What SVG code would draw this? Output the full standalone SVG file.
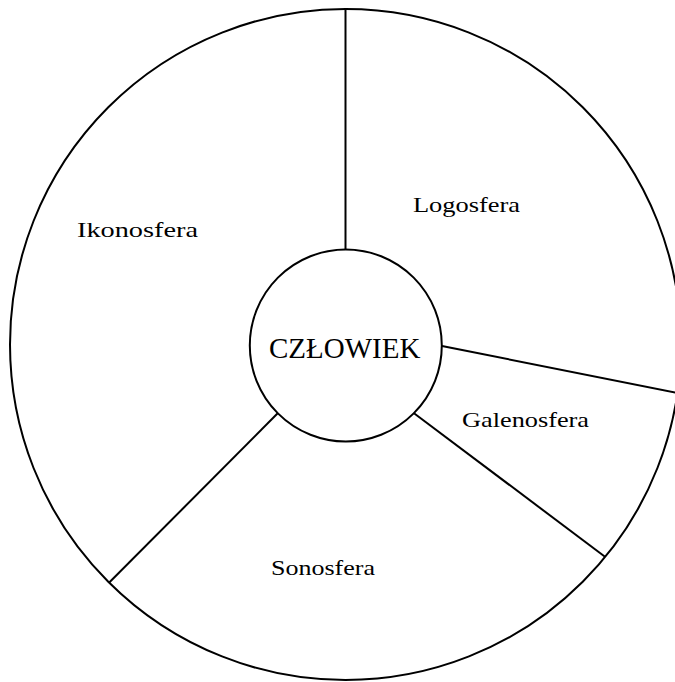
<svg xmlns="http://www.w3.org/2000/svg" width="675" height="682" viewBox="0 0 675 682">
<style>
.ln{stroke:#000;stroke-width:2;fill:none}
.lbl{font-family:"Liberation Serif","Times New Roman",serif;font-size:22px;fill:#000}
.ctr{font-family:"Liberation Serif","Times New Roman",serif;font-size:29px;fill:#000}
</style>
<rect width="675" height="682" fill="#fff"/>
<g id="outer"><circle class="ln" cx="345.5" cy="344.5" r="335.5"/></g>
<g id="connectors">
<line class="ln" x1="345.5" y1="9" x2="345.5" y2="249"/>
<line class="ln" x1="442" y1="346" x2="700" y2="397.6"/>
<line class="ln" x1="277.7" y1="413.3" x2="109" y2="582.8"/>
<line class="ln" x1="414" y1="413.3" x2="605" y2="556.7"/>
</g>
<g id="czlowiek"><circle class="ln" cx="345.8" cy="345.5" r="96" fill="#fff"/><text class="ctr" x="269" y="358">CZŁOWIEK</text></g>
<g id="logosfera"><text class="lbl" x="413" y="211.7" textLength="107" lengthAdjust="spacingAndGlyphs">Logosfera</text></g>
<g id="ikonosfera"><text class="lbl" x="77" y="236.7" textLength="121" lengthAdjust="spacingAndGlyphs">Ikonosfera</text></g>
<g id="galenosfera"><text class="lbl" x="462" y="427.3" textLength="127" lengthAdjust="spacingAndGlyphs">Galenosfera</text></g>
<g id="sonosfera"><text class="lbl" x="271" y="574.7" textLength="104" lengthAdjust="spacingAndGlyphs">Sonosfera</text></g>
</svg>
